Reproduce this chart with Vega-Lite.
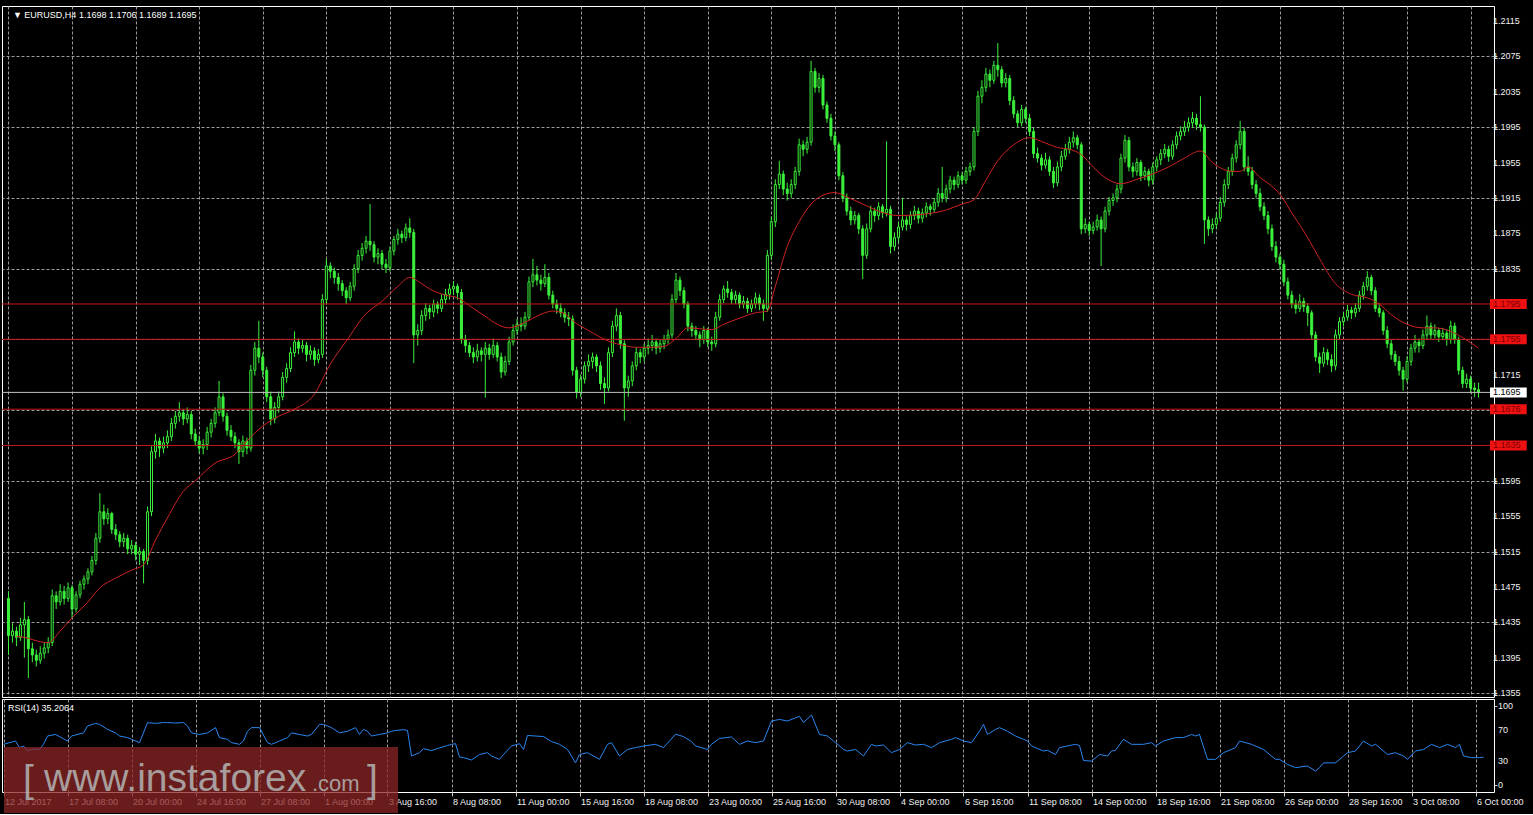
{
"$schema":"https://vega.github.io/schema/vega-lite/v6.json",
"background":"#000000",
"padding":{"left":1,"top":5,"right":0,"bottom":0},
"autosize":{"type":"pad"},
"spacing":2,
"bounds":"flush",
"config":{"view":{"stroke":"#ffffff","strokeWidth":1},"axis":{"labelFont":"Liberation Sans","labelFontSize":9,"labelColor":"#f0f0f0","labelOverlap":false,"title":null,"domain":false,"gridColor":"#9c9c9c","gridDash":[3,2],"gridWidth":1,"tickColor":"#d0d0d0"}},
"datasets":{
"bars":[
{"i":0,"o":1.1462,"h":1.1470,"l":1.1398,"c":1.1420},
{"i":1,"o":1.1420,"h":1.1434,"l":1.1412,"c":1.1425},
{"i":2,"o":1.1425,"h":1.1430,"l":1.1408,"c":1.1418},
{"i":3,"o":1.1418,"h":1.1440,"l":1.1414,"c":1.1432},
{"i":4,"o":1.1432,"h":1.1458,"l":1.1395,"c":1.1438},
{"i":5,"o":1.1438,"h":1.1442,"l":1.1372,"c":1.1405},
{"i":6,"o":1.1405,"h":1.1412,"l":1.1390,"c":1.1398},
{"i":7,"o":1.1398,"h":1.1404,"l":1.1385,"c":1.1392},
{"i":8,"o":1.1392,"h":1.1408,"l":1.1388,"c":1.1400},
{"i":9,"o":1.1400,"h":1.1412,"l":1.1394,"c":1.1406},
{"i":10,"o":1.1406,"h":1.1418,"l":1.1400,"c":1.1412},
{"i":11,"o":1.1412,"h":1.1472,"l":1.1408,"c":1.1465},
{"i":12,"o":1.1465,"h":1.1470,"l":1.1450,"c":1.1458},
{"i":13,"o":1.1458,"h":1.1478,"l":1.1454,"c":1.1470},
{"i":14,"o":1.1470,"h":1.1476,"l":1.1455,"c":1.1462},
{"i":15,"o":1.1462,"h":1.1480,"l":1.1458,"c":1.1474},
{"i":16,"o":1.1474,"h":1.1477,"l":1.1440,"c":1.1450},
{"i":17,"o":1.1450,"h":1.1470,"l":1.1446,"c":1.1466},
{"i":18,"o":1.1466,"h":1.1482,"l":1.1462,"c":1.1478},
{"i":19,"o":1.1478,"h":1.1488,"l":1.1472,"c":1.1484},
{"i":20,"o":1.1484,"h":1.1496,"l":1.1478,"c":1.1492},
{"i":21,"o":1.1492,"h":1.1510,"l":1.1488,"c":1.1505},
{"i":22,"o":1.1505,"h":1.1536,"l":1.1500,"c":1.1530},
{"i":23,"o":1.1530,"h":1.1581,"l":1.1525,"c":1.1560},
{"i":24,"o":1.1560,"h":1.1568,"l":1.1545,"c":1.1552},
{"i":25,"o":1.1552,"h":1.1564,"l":1.1546,"c":1.1558},
{"i":26,"o":1.1558,"h":1.1560,"l":1.1535,"c":1.1540},
{"i":27,"o":1.1540,"h":1.1546,"l":1.1528,"c":1.1534},
{"i":28,"o":1.1534,"h":1.1538,"l":1.1520,"c":1.1526},
{"i":29,"o":1.1526,"h":1.1536,"l":1.1520,"c":1.1530},
{"i":30,"o":1.1530,"h":1.1534,"l":1.1512,"c":1.1518},
{"i":31,"o":1.1518,"h":1.1528,"l":1.1512,"c":1.1522},
{"i":32,"o":1.1522,"h":1.1526,"l":1.1505,"c":1.1512},
{"i":33,"o":1.1512,"h":1.1520,"l":1.1500,"c":1.1515},
{"i":34,"o":1.1515,"h":1.1518,"l":1.1479,"c":1.1505},
{"i":35,"o":1.1505,"h":1.1566,"l":1.1500,"c":1.1560},
{"i":36,"o":1.1560,"h":1.1634,"l":1.1555,"c":1.1628},
{"i":37,"o":1.1628,"h":1.1648,"l":1.1620,"c":1.1640},
{"i":38,"o":1.1640,"h":1.1644,"l":1.1622,"c":1.1632},
{"i":39,"o":1.1632,"h":1.1645,"l":1.1626,"c":1.1638},
{"i":40,"o":1.1638,"h":1.1652,"l":1.1632,"c":1.1645},
{"i":41,"o":1.1645,"h":1.1666,"l":1.1640,"c":1.1660},
{"i":42,"o":1.1660,"h":1.1674,"l":1.1654,"c":1.1668},
{"i":43,"o":1.1668,"h":1.1684,"l":1.1662,"c":1.1672},
{"i":44,"o":1.1672,"h":1.1676,"l":1.1658,"c":1.1665},
{"i":45,"o":1.1665,"h":1.1678,"l":1.1660,"c":1.1670},
{"i":46,"o":1.1670,"h":1.1674,"l":1.1642,"c":1.1648},
{"i":47,"o":1.1648,"h":1.1654,"l":1.1634,"c":1.1640},
{"i":48,"o":1.1640,"h":1.1646,"l":1.1626,"c":1.1632},
{"i":49,"o":1.1632,"h":1.1642,"l":1.1625,"c":1.1636},
{"i":50,"o":1.1636,"h":1.1656,"l":1.1630,"c":1.1650},
{"i":51,"o":1.1650,"h":1.1665,"l":1.1644,"c":1.1660},
{"i":52,"o":1.1660,"h":1.1678,"l":1.1655,"c":1.1672},
{"i":53,"o":1.1672,"h":1.1708,"l":1.1668,"c":1.1690},
{"i":54,"o":1.1690,"h":1.1694,"l":1.1662,"c":1.1668},
{"i":55,"o":1.1668,"h":1.1672,"l":1.1646,"c":1.1652},
{"i":56,"o":1.1652,"h":1.1658,"l":1.1640,"c":1.1645},
{"i":57,"o":1.1645,"h":1.1650,"l":1.1632,"c":1.1638},
{"i":58,"o":1.1638,"h":1.1642,"l":1.1614,"c":1.1628},
{"i":59,"o":1.1628,"h":1.1646,"l":1.1622,"c":1.1640},
{"i":60,"o":1.1640,"h":1.1644,"l":1.1625,"c":1.1632},
{"i":61,"o":1.1632,"h":1.1726,"l":1.1628,"c":1.1720},
{"i":62,"o":1.1720,"h":1.1752,"l":1.1714,"c":1.1745},
{"i":63,"o":1.1745,"h":1.1776,"l":1.1728,"c":1.1735},
{"i":64,"o":1.1735,"h":1.1740,"l":1.1712,"c":1.1720},
{"i":65,"o":1.1720,"h":1.1724,"l":1.1684,"c":1.1690},
{"i":66,"o":1.1690,"h":1.1696,"l":1.1658,"c":1.1665},
{"i":67,"o":1.1665,"h":1.1684,"l":1.1660,"c":1.1678},
{"i":68,"o":1.1678,"h":1.1696,"l":1.1672,"c":1.1690},
{"i":69,"o":1.1690,"h":1.1718,"l":1.1686,"c":1.1712},
{"i":70,"o":1.1712,"h":1.1728,"l":1.1706,"c":1.1722},
{"i":71,"o":1.1722,"h":1.1746,"l":1.1718,"c":1.1740},
{"i":72,"o":1.1740,"h":1.1764,"l":1.1735,"c":1.1752},
{"i":73,"o":1.1752,"h":1.1756,"l":1.1738,"c":1.1745},
{"i":74,"o":1.1745,"h":1.1754,"l":1.1740,"c":1.1748},
{"i":75,"o":1.1748,"h":1.1752,"l":1.1730,"c":1.1738},
{"i":76,"o":1.1738,"h":1.1748,"l":1.1732,"c":1.1742},
{"i":77,"o":1.1742,"h":1.1746,"l":1.1725,"c":1.1732},
{"i":78,"o":1.1732,"h":1.1744,"l":1.1728,"c":1.1738},
{"i":79,"o":1.1738,"h":1.1806,"l":1.1734,"c":1.1800},
{"i":80,"o":1.1800,"h":1.1846,"l":1.1795,"c":1.1838},
{"i":81,"o":1.1838,"h":1.1842,"l":1.1824,"c":1.1832},
{"i":82,"o":1.1832,"h":1.1836,"l":1.1818,"c":1.1825},
{"i":83,"o":1.1825,"h":1.1830,"l":1.1810,"c":1.1818},
{"i":84,"o":1.1818,"h":1.1822,"l":1.1804,"c":1.1810},
{"i":85,"o":1.1810,"h":1.1814,"l":1.1795,"c":1.1802},
{"i":86,"o":1.1802,"h":1.1820,"l":1.1798,"c":1.1815},
{"i":87,"o":1.1815,"h":1.1840,"l":1.1810,"c":1.1835},
{"i":88,"o":1.1835,"h":1.1856,"l":1.1830,"c":1.1850},
{"i":89,"o":1.1850,"h":1.1864,"l":1.1844,"c":1.1858},
{"i":90,"o":1.1858,"h":1.1872,"l":1.1852,"c":1.1866},
{"i":91,"o":1.1866,"h":1.1908,"l":1.1855,"c":1.1862},
{"i":92,"o":1.1862,"h":1.1866,"l":1.1842,"c":1.1848},
{"i":93,"o":1.1848,"h":1.1858,"l":1.1840,"c":1.1852},
{"i":94,"o":1.1852,"h":1.1856,"l":1.1834,"c":1.1840},
{"i":95,"o":1.1840,"h":1.1846,"l":1.1830,"c":1.1836},
{"i":96,"o":1.1836,"h":1.1860,"l":1.1832,"c":1.1855},
{"i":97,"o":1.1855,"h":1.1872,"l":1.1850,"c":1.1868},
{"i":98,"o":1.1868,"h":1.1880,"l":1.1862,"c":1.1874},
{"i":99,"o":1.1874,"h":1.1878,"l":1.1864,"c":1.1870},
{"i":100,"o":1.1870,"h":1.1886,"l":1.1866,"c":1.1881},
{"i":101,"o":1.1881,"h":1.1892,"l":1.1870,"c":1.1876},
{"i":102,"o":1.1876,"h":1.1880,"l":1.1728,"c":1.1760},
{"i":103,"o":1.1760,"h":1.1772,"l":1.1748,"c":1.1765},
{"i":104,"o":1.1765,"h":1.1788,"l":1.1760,"c":1.1782},
{"i":105,"o":1.1782,"h":1.1796,"l":1.1776,"c":1.1790},
{"i":106,"o":1.1790,"h":1.1794,"l":1.1778,"c":1.1786},
{"i":107,"o":1.1786,"h":1.1800,"l":1.1780,"c":1.1795},
{"i":108,"o":1.1795,"h":1.1798,"l":1.1784,"c":1.1790},
{"i":109,"o":1.1790,"h":1.1806,"l":1.1786,"c":1.1800},
{"i":110,"o":1.1800,"h":1.1812,"l":1.1795,"c":1.1806},
{"i":111,"o":1.1806,"h":1.1818,"l":1.1800,"c":1.1812},
{"i":112,"o":1.1812,"h":1.1821,"l":1.1805,"c":1.1815},
{"i":113,"o":1.1815,"h":1.1818,"l":1.1800,"c":1.1808},
{"i":114,"o":1.1808,"h":1.1812,"l":1.1750,"c":1.1755},
{"i":115,"o":1.1755,"h":1.1760,"l":1.1740,"c":1.1748},
{"i":116,"o":1.1748,"h":1.1752,"l":1.1735,"c":1.1740},
{"i":117,"o":1.1740,"h":1.1746,"l":1.1728,"c":1.1735},
{"i":118,"o":1.1735,"h":1.1750,"l":1.1730,"c":1.1742},
{"i":119,"o":1.1742,"h":1.1746,"l":1.1730,"c":1.1738},
{"i":120,"o":1.1738,"h":1.1752,"l":1.1689,"c":1.1745},
{"i":121,"o":1.1745,"h":1.1750,"l":1.1732,"c":1.1738},
{"i":122,"o":1.1738,"h":1.1756,"l":1.1734,"c":1.1748},
{"i":123,"o":1.1748,"h":1.1752,"l":1.1730,"c":1.1735},
{"i":124,"o":1.1735,"h":1.1740,"l":1.1711,"c":1.1718},
{"i":125,"o":1.1718,"h":1.1736,"l":1.1714,"c":1.1730},
{"i":126,"o":1.1730,"h":1.1758,"l":1.1726,"c":1.1752},
{"i":127,"o":1.1752,"h":1.1772,"l":1.1748,"c":1.1765},
{"i":128,"o":1.1765,"h":1.1778,"l":1.1760,"c":1.1772},
{"i":129,"o":1.1772,"h":1.1780,"l":1.1764,"c":1.1770},
{"i":130,"o":1.1770,"h":1.1786,"l":1.1766,"c":1.1780},
{"i":131,"o":1.1780,"h":1.1826,"l":1.1776,"c":1.1820},
{"i":132,"o":1.1820,"h":1.1846,"l":1.1814,"c":1.1828},
{"i":133,"o":1.1828,"h":1.1838,"l":1.1816,"c":1.1822},
{"i":134,"o":1.1822,"h":1.1828,"l":1.1810,"c":1.1818},
{"i":135,"o":1.1818,"h":1.1840,"l":1.1814,"c":1.1825},
{"i":136,"o":1.1825,"h":1.1830,"l":1.1800,"c":1.1805},
{"i":137,"o":1.1805,"h":1.1810,"l":1.1790,"c":1.1795},
{"i":138,"o":1.1795,"h":1.1800,"l":1.1784,"c":1.1790},
{"i":139,"o":1.1790,"h":1.1796,"l":1.1780,"c":1.1785},
{"i":140,"o":1.1785,"h":1.1790,"l":1.1774,"c":1.1780},
{"i":141,"o":1.1780,"h":1.1786,"l":1.1770,"c":1.1778},
{"i":142,"o":1.1778,"h":1.1782,"l":1.1714,"c":1.1720},
{"i":143,"o":1.1720,"h":1.1724,"l":1.1688,"c":1.1695},
{"i":144,"o":1.1695,"h":1.1715,"l":1.1690,"c":1.1710},
{"i":145,"o":1.1710,"h":1.1730,"l":1.1705,"c":1.1725},
{"i":146,"o":1.1725,"h":1.1738,"l":1.1718,"c":1.1730},
{"i":147,"o":1.1730,"h":1.1740,"l":1.1722,"c":1.1735},
{"i":148,"o":1.1735,"h":1.1738,"l":1.1718,"c":1.1725},
{"i":149,"o":1.1725,"h":1.1730,"l":1.1698,"c":1.1705},
{"i":150,"o":1.1705,"h":1.1712,"l":1.1682,"c":1.1700},
{"i":151,"o":1.1700,"h":1.1746,"l":1.1696,"c":1.1740},
{"i":152,"o":1.1740,"h":1.1776,"l":1.1735,"c":1.1770},
{"i":153,"o":1.1770,"h":1.1790,"l":1.1764,"c":1.1782},
{"i":154,"o":1.1782,"h":1.1786,"l":1.1744,"c":1.1750},
{"i":155,"o":1.1750,"h":1.1754,"l":1.1663,"c":1.1700},
{"i":156,"o":1.1700,"h":1.1714,"l":1.1690,"c":1.1708},
{"i":157,"o":1.1708,"h":1.1730,"l":1.1702,"c":1.1725},
{"i":158,"o":1.1725,"h":1.1746,"l":1.1720,"c":1.1740},
{"i":159,"o":1.1740,"h":1.1744,"l":1.1728,"c":1.1735},
{"i":160,"o":1.1735,"h":1.1750,"l":1.1730,"c":1.1745},
{"i":161,"o":1.1745,"h":1.1756,"l":1.1738,"c":1.1748},
{"i":162,"o":1.1748,"h":1.1760,"l":1.1742,"c":1.1752},
{"i":163,"o":1.1752,"h":1.1756,"l":1.1738,"c":1.1745},
{"i":164,"o":1.1745,"h":1.1755,"l":1.1740,"c":1.1750},
{"i":165,"o":1.1750,"h":1.1760,"l":1.1744,"c":1.1755},
{"i":166,"o":1.1755,"h":1.1766,"l":1.1750,"c":1.1760},
{"i":167,"o":1.1760,"h":1.1806,"l":1.1756,"c":1.1800},
{"i":168,"o":1.1800,"h":1.1830,"l":1.1796,"c":1.1822},
{"i":169,"o":1.1822,"h":1.1826,"l":1.1804,"c":1.1810},
{"i":170,"o":1.1810,"h":1.1814,"l":1.1790,"c":1.1795},
{"i":171,"o":1.1795,"h":1.1798,"l":1.1764,"c":1.1770},
{"i":172,"o":1.1770,"h":1.1774,"l":1.1758,"c":1.1765},
{"i":173,"o":1.1765,"h":1.1770,"l":1.1754,"c":1.1760},
{"i":174,"o":1.1760,"h":1.1764,"l":1.1746,"c":1.1755},
{"i":175,"o":1.1755,"h":1.1770,"l":1.1750,"c":1.1765},
{"i":176,"o":1.1765,"h":1.1768,"l":1.1746,"c":1.1752},
{"i":177,"o":1.1752,"h":1.1758,"l":1.1742,"c":1.1750},
{"i":178,"o":1.1750,"h":1.1786,"l":1.1746,"c":1.1780},
{"i":179,"o":1.1780,"h":1.1806,"l":1.1776,"c":1.1800},
{"i":180,"o":1.1800,"h":1.1816,"l":1.1796,"c":1.1812},
{"i":181,"o":1.1812,"h":1.1821,"l":1.1802,"c":1.1808},
{"i":182,"o":1.1808,"h":1.1812,"l":1.1795,"c":1.1800},
{"i":183,"o":1.1800,"h":1.1810,"l":1.1795,"c":1.1805},
{"i":184,"o":1.1805,"h":1.1808,"l":1.1790,"c":1.1795},
{"i":185,"o":1.1795,"h":1.1804,"l":1.1790,"c":1.1798},
{"i":186,"o":1.1798,"h":1.1802,"l":1.1785,"c":1.1790},
{"i":187,"o":1.1790,"h":1.1800,"l":1.1786,"c":1.1795},
{"i":188,"o":1.1795,"h":1.1808,"l":1.1790,"c":1.1802},
{"i":189,"o":1.1802,"h":1.1806,"l":1.1788,"c":1.1795},
{"i":190,"o":1.1795,"h":1.1800,"l":1.1776,"c":1.1790},
{"i":191,"o":1.1790,"h":1.1856,"l":1.1786,"c":1.1850},
{"i":192,"o":1.1850,"h":1.1894,"l":1.1845,"c":1.1888},
{"i":193,"o":1.1888,"h":1.1936,"l":1.1882,"c":1.1930},
{"i":194,"o":1.1930,"h":1.1957,"l":1.1925,"c":1.1942},
{"i":195,"o":1.1942,"h":1.1946,"l":1.1918,"c":1.1925},
{"i":196,"o":1.1925,"h":1.1932,"l":1.1912,"c":1.1920},
{"i":197,"o":1.1920,"h":1.1936,"l":1.1915,"c":1.1930},
{"i":198,"o":1.1930,"h":1.1950,"l":1.1925,"c":1.1945},
{"i":199,"o":1.1945,"h":1.1982,"l":1.1940,"c":1.1975},
{"i":200,"o":1.1975,"h":1.1980,"l":1.1962,"c":1.1970},
{"i":201,"o":1.1970,"h":1.1984,"l":1.1965,"c":1.1978},
{"i":202,"o":1.1978,"h":1.2070,"l":1.1974,"c":1.2058},
{"i":203,"o":1.2058,"h":1.2062,"l":1.2034,"c":1.2040},
{"i":204,"o":1.2040,"h":1.2056,"l":1.2034,"c":1.2050},
{"i":205,"o":1.2050,"h":1.2054,"l":1.2015,"c":1.2020},
{"i":206,"o":1.2020,"h":1.2024,"l":1.2000,"c":1.2005},
{"i":207,"o":1.2005,"h":1.2010,"l":1.1980,"c":1.1985},
{"i":208,"o":1.1985,"h":1.1990,"l":1.1968,"c":1.1975},
{"i":209,"o":1.1975,"h":1.1978,"l":1.1935,"c":1.1940},
{"i":210,"o":1.1940,"h":1.1944,"l":1.1910,"c":1.1915},
{"i":211,"o":1.1915,"h":1.1920,"l":1.1895,"c":1.1900},
{"i":212,"o":1.1900,"h":1.1905,"l":1.1884,"c":1.1890},
{"i":213,"o":1.1890,"h":1.1900,"l":1.1885,"c":1.1895},
{"i":214,"o":1.1895,"h":1.1898,"l":1.1874,"c":1.1880},
{"i":215,"o":1.1880,"h":1.1884,"l":1.1823,"c":1.1850},
{"i":216,"o":1.1850,"h":1.1886,"l":1.1846,"c":1.1880},
{"i":217,"o":1.1880,"h":1.1906,"l":1.1876,"c":1.1900},
{"i":218,"o":1.1900,"h":1.1904,"l":1.1888,"c":1.1895},
{"i":219,"o":1.1895,"h":1.1910,"l":1.1890,"c":1.1905},
{"i":220,"o":1.1905,"h":1.1908,"l":1.1892,"c":1.1898},
{"i":221,"o":1.1898,"h":1.1979,"l":1.1894,"c":1.1902},
{"i":222,"o":1.1902,"h":1.1906,"l":1.1852,"c":1.1860},
{"i":223,"o":1.1860,"h":1.1876,"l":1.1855,"c":1.1870},
{"i":224,"o":1.1870,"h":1.1888,"l":1.1865,"c":1.1882},
{"i":225,"o":1.1882,"h":1.1915,"l":1.1878,"c":1.1890},
{"i":226,"o":1.1890,"h":1.1894,"l":1.1878,"c":1.1885},
{"i":227,"o":1.1885,"h":1.1900,"l":1.1880,"c":1.1895},
{"i":228,"o":1.1895,"h":1.1906,"l":1.1890,"c":1.1900},
{"i":229,"o":1.1900,"h":1.1904,"l":1.1886,"c":1.1892},
{"i":230,"o":1.1892,"h":1.1903,"l":1.1887,"c":1.1898},
{"i":231,"o":1.1898,"h":1.1910,"l":1.1893,"c":1.1905},
{"i":232,"o":1.1905,"h":1.1908,"l":1.1895,"c":1.1902},
{"i":233,"o":1.1902,"h":1.1915,"l":1.1898,"c":1.1910},
{"i":234,"o":1.1910,"h":1.1926,"l":1.1905,"c":1.1920},
{"i":235,"o":1.1920,"h":1.1950,"l":1.1910,"c":1.1915},
{"i":236,"o":1.1915,"h":1.1930,"l":1.1910,"c":1.1925},
{"i":237,"o":1.1925,"h":1.1940,"l":1.1920,"c":1.1935},
{"i":238,"o":1.1935,"h":1.1939,"l":1.1924,"c":1.1930},
{"i":239,"o":1.1930,"h":1.1945,"l":1.1926,"c":1.1940},
{"i":240,"o":1.1940,"h":1.1944,"l":1.1930,"c":1.1935},
{"i":241,"o":1.1935,"h":1.1950,"l":1.1931,"c":1.1945},
{"i":242,"o":1.1945,"h":1.1955,"l":1.1940,"c":1.1950},
{"i":243,"o":1.1950,"h":1.1995,"l":1.1946,"c":1.1990},
{"i":244,"o":1.1990,"h":1.2036,"l":1.1985,"c":1.2030},
{"i":245,"o":1.2030,"h":1.2048,"l":1.2022,"c":1.2040},
{"i":246,"o":1.2040,"h":1.2062,"l":1.2035,"c":1.2055},
{"i":247,"o":1.2055,"h":1.2060,"l":1.2040,"c":1.2048},
{"i":248,"o":1.2048,"h":1.2070,"l":1.2044,"c":1.2065},
{"i":249,"o":1.2065,"h":1.2090,"l":1.2052,"c":1.2060},
{"i":250,"o":1.2060,"h":1.2064,"l":1.2040,"c":1.2045},
{"i":251,"o":1.2045,"h":1.2056,"l":1.2040,"c":1.2050},
{"i":252,"o":1.2050,"h":1.2054,"l":1.2020,"c":1.2025},
{"i":253,"o":1.2025,"h":1.2030,"l":1.2005,"c":1.2010},
{"i":254,"o":1.2010,"h":1.2014,"l":1.1995,"c":1.2000},
{"i":255,"o":1.2000,"h":1.2020,"l":1.1996,"c":1.2015},
{"i":256,"o":1.2015,"h":1.2018,"l":1.2000,"c":1.2005},
{"i":257,"o":1.2005,"h":1.2010,"l":1.1985,"c":1.1990},
{"i":258,"o":1.1990,"h":1.1994,"l":1.1960,"c":1.1965},
{"i":259,"o":1.1965,"h":1.1972,"l":1.1955,"c":1.1960},
{"i":260,"o":1.1960,"h":1.1964,"l":1.1946,"c":1.1952},
{"i":261,"o":1.1952,"h":1.1966,"l":1.1948,"c":1.1958},
{"i":262,"o":1.1958,"h":1.1962,"l":1.1940,"c":1.1945},
{"i":263,"o":1.1945,"h":1.1950,"l":1.1926,"c":1.1932},
{"i":264,"o":1.1932,"h":1.1956,"l":1.1928,"c":1.1950},
{"i":265,"o":1.1950,"h":1.1968,"l":1.1945,"c":1.1962},
{"i":266,"o":1.1962,"h":1.1976,"l":1.1958,"c":1.1970},
{"i":267,"o":1.1970,"h":1.1984,"l":1.1965,"c":1.1978},
{"i":268,"o":1.1978,"h":1.1990,"l":1.1972,"c":1.1983},
{"i":269,"o":1.1983,"h":1.1986,"l":1.1970,"c":1.1975},
{"i":270,"o":1.1975,"h":1.1978,"l":1.1874,"c":1.1880},
{"i":271,"o":1.1880,"h":1.1892,"l":1.1875,"c":1.1885},
{"i":272,"o":1.1885,"h":1.1888,"l":1.1872,"c":1.1878},
{"i":273,"o":1.1878,"h":1.1888,"l":1.1874,"c":1.1882},
{"i":274,"o":1.1882,"h":1.1896,"l":1.1878,"c":1.1890},
{"i":275,"o":1.1890,"h":1.1894,"l":1.1838,"c":1.1880},
{"i":276,"o":1.1880,"h":1.1905,"l":1.1876,"c":1.1900},
{"i":277,"o":1.1900,"h":1.1916,"l":1.1895,"c":1.1912},
{"i":278,"o":1.1912,"h":1.1920,"l":1.1906,"c":1.1915},
{"i":279,"o":1.1915,"h":1.1930,"l":1.1910,"c":1.1925},
{"i":280,"o":1.1925,"h":1.1965,"l":1.1920,"c":1.1960},
{"i":281,"o":1.1960,"h":1.1986,"l":1.1955,"c":1.1980},
{"i":282,"o":1.1980,"h":1.1984,"l":1.1945,"c":1.1950},
{"i":283,"o":1.1950,"h":1.1955,"l":1.1938,"c":1.1945},
{"i":284,"o":1.1945,"h":1.1960,"l":1.1940,"c":1.1955},
{"i":285,"o":1.1955,"h":1.1958,"l":1.1934,"c":1.1940},
{"i":286,"o":1.1940,"h":1.1950,"l":1.1935,"c":1.1945},
{"i":287,"o":1.1945,"h":1.1948,"l":1.1928,"c":1.1935},
{"i":288,"o":1.1935,"h":1.1955,"l":1.1930,"c":1.1950},
{"i":289,"o":1.1950,"h":1.1962,"l":1.1945,"c":1.1958},
{"i":290,"o":1.1958,"h":1.1970,"l":1.1952,"c":1.1965},
{"i":291,"o":1.1965,"h":1.1976,"l":1.1960,"c":1.1970},
{"i":292,"o":1.1970,"h":1.1974,"l":1.1956,"c":1.1962},
{"i":293,"o":1.1962,"h":1.1980,"l":1.1958,"c":1.1975},
{"i":294,"o":1.1975,"h":1.1990,"l":1.1970,"c":1.1985},
{"i":295,"o":1.1985,"h":1.1996,"l":1.1980,"c":1.1990},
{"i":296,"o":1.1990,"h":1.2002,"l":1.1985,"c":1.1995},
{"i":297,"o":1.1995,"h":1.2006,"l":1.1990,"c":1.2000},
{"i":298,"o":1.2000,"h":1.2012,"l":1.1994,"c":1.2005},
{"i":299,"o":1.2005,"h":1.2010,"l":1.1992,"c":1.1998},
{"i":300,"o":1.1998,"h":1.2030,"l":1.1990,"c":1.1995},
{"i":301,"o":1.1995,"h":1.1998,"l":1.1863,"c":1.1890},
{"i":302,"o":1.1890,"h":1.1894,"l":1.1872,"c":1.1880},
{"i":303,"o":1.1880,"h":1.1892,"l":1.1875,"c":1.1885},
{"i":304,"o":1.1885,"h":1.1898,"l":1.1880,"c":1.1892},
{"i":305,"o":1.1892,"h":1.1916,"l":1.1888,"c":1.1910},
{"i":306,"o":1.1910,"h":1.1936,"l":1.1905,"c":1.1930},
{"i":307,"o":1.1930,"h":1.1950,"l":1.1925,"c":1.1945},
{"i":308,"o":1.1945,"h":1.1965,"l":1.1940,"c":1.1960},
{"i":309,"o":1.1960,"h":1.1980,"l":1.1955,"c":1.1975},
{"i":310,"o":1.1975,"h":1.2002,"l":1.1970,"c":1.1990},
{"i":311,"o":1.1990,"h":1.1994,"l":1.1945,"c":1.1950},
{"i":312,"o":1.1950,"h":1.1962,"l":1.1940,"c":1.1945},
{"i":313,"o":1.1945,"h":1.1950,"l":1.1925,"c":1.1930},
{"i":314,"o":1.1930,"h":1.1935,"l":1.1915,"c":1.1920},
{"i":315,"o":1.1920,"h":1.1926,"l":1.1900,"c":1.1905},
{"i":316,"o":1.1905,"h":1.1910,"l":1.1890,"c":1.1895},
{"i":317,"o":1.1895,"h":1.1900,"l":1.1874,"c":1.1880},
{"i":318,"o":1.1880,"h":1.1885,"l":1.1855,"c":1.1860},
{"i":319,"o":1.1860,"h":1.1866,"l":1.1842,"c":1.1848},
{"i":320,"o":1.1848,"h":1.1852,"l":1.1834,"c":1.1840},
{"i":321,"o":1.1840,"h":1.1845,"l":1.1815,"c":1.1820},
{"i":322,"o":1.1820,"h":1.1825,"l":1.1800,"c":1.1805},
{"i":323,"o":1.1805,"h":1.1810,"l":1.1790,"c":1.1795},
{"i":324,"o":1.1795,"h":1.1800,"l":1.1784,"c":1.1790},
{"i":325,"o":1.1790,"h":1.1806,"l":1.1786,"c":1.1798},
{"i":326,"o":1.1798,"h":1.1802,"l":1.1786,"c":1.1792},
{"i":327,"o":1.1792,"h":1.1796,"l":1.1770,"c":1.1785},
{"i":328,"o":1.1785,"h":1.1788,"l":1.1755,"c":1.1760},
{"i":329,"o":1.1760,"h":1.1764,"l":1.1730,"c":1.1735},
{"i":330,"o":1.1735,"h":1.1740,"l":1.1717,"c":1.1728},
{"i":331,"o":1.1728,"h":1.1746,"l":1.1724,"c":1.1740},
{"i":332,"o":1.1740,"h":1.1744,"l":1.1726,"c":1.1732},
{"i":333,"o":1.1732,"h":1.1738,"l":1.1718,"c":1.1725},
{"i":334,"o":1.1725,"h":1.1766,"l":1.1720,"c":1.1760},
{"i":335,"o":1.1760,"h":1.1780,"l":1.1755,"c":1.1775},
{"i":336,"o":1.1775,"h":1.1786,"l":1.1770,"c":1.1780},
{"i":337,"o":1.1780,"h":1.1794,"l":1.1776,"c":1.1788},
{"i":338,"o":1.1788,"h":1.1792,"l":1.1778,"c":1.1785},
{"i":339,"o":1.1785,"h":1.1796,"l":1.1780,"c":1.1790},
{"i":340,"o":1.1790,"h":1.1810,"l":1.1786,"c":1.1805},
{"i":341,"o":1.1805,"h":1.1820,"l":1.1800,"c":1.1815},
{"i":342,"o":1.1815,"h":1.1832,"l":1.1810,"c":1.1825},
{"i":343,"o":1.1825,"h":1.1828,"l":1.1805,"c":1.1810},
{"i":344,"o":1.1810,"h":1.1814,"l":1.1786,"c":1.1790},
{"i":345,"o":1.1790,"h":1.1796,"l":1.1780,"c":1.1785},
{"i":346,"o":1.1785,"h":1.1788,"l":1.1760,"c":1.1765},
{"i":347,"o":1.1765,"h":1.1770,"l":1.1745,"c":1.1750},
{"i":348,"o":1.1750,"h":1.1755,"l":1.1732,"c":1.1738},
{"i":349,"o":1.1738,"h":1.1742,"l":1.1725,"c":1.1730},
{"i":350,"o":1.1730,"h":1.1736,"l":1.1714,"c":1.1720},
{"i":351,"o":1.1720,"h":1.1724,"l":1.1697,"c":1.1710},
{"i":352,"o":1.1710,"h":1.1736,"l":1.1706,"c":1.1730},
{"i":353,"o":1.1730,"h":1.1750,"l":1.1725,"c":1.1745},
{"i":354,"o":1.1745,"h":1.1760,"l":1.1740,"c":1.1752},
{"i":355,"o":1.1752,"h":1.1756,"l":1.1740,"c":1.1748},
{"i":356,"o":1.1748,"h":1.1766,"l":1.1744,"c":1.1760},
{"i":357,"o":1.1760,"h":1.1782,"l":1.1755,"c":1.1770},
{"i":358,"o":1.1770,"h":1.1774,"l":1.1755,"c":1.1760},
{"i":359,"o":1.1760,"h":1.1772,"l":1.1756,"c":1.1765},
{"i":360,"o":1.1765,"h":1.1768,"l":1.1752,"c":1.1758},
{"i":361,"o":1.1758,"h":1.1768,"l":1.1754,"c":1.1762},
{"i":362,"o":1.1762,"h":1.1766,"l":1.1748,"c":1.1755},
{"i":363,"o":1.1755,"h":1.1776,"l":1.1750,"c":1.1770},
{"i":364,"o":1.1770,"h":1.1774,"l":1.1750,"c":1.1755},
{"i":365,"o":1.1755,"h":1.1758,"l":1.1715,"c":1.1720},
{"i":366,"o":1.1720,"h":1.1724,"l":1.1700,"c":1.1705},
{"i":367,"o":1.1705,"h":1.1716,"l":1.1700,"c":1.1710},
{"i":368,"o":1.1710,"h":1.1714,"l":1.1694,"c":1.1700},
{"i":369,"o":1.1700,"h":1.1706,"l":1.1690,"c":1.1698},
{"i":370,"o":1.1698,"h":1.1706,"l":1.1689,"c":1.1695}
],
"ma":[
{"i":2,"v":1.1419},{"i":4,"v":1.1418},{"i":8,"v":1.1413},{"i":10,"v":1.1412},{"i":13,"v":1.1425},{"i":16,"v":1.1440},{"i":20,"v":1.1458},{"i":23,"v":1.1474},{"i":27,"v":1.1485},{"i":31,"v":1.1494},{"i":34,"v":1.1500},{"i":37,"v":1.1528},{"i":40,"v":1.1553},{"i":44,"v":1.1583},{"i":47,"v":1.1595},{"i":52,"v":1.1615},{"i":57,"v":1.1625},{"i":60,"v":1.1640},{"i":64,"v":1.1657},{"i":68,"v":1.1668},{"i":72,"v":1.1676},{"i":77,"v":1.1693},{"i":81,"v":1.1727},{"i":85,"v":1.1753},{"i":90,"v":1.1784},{"i":94,"v":1.1798},{"i":98,"v":1.1815},{"i":101,"v":1.1825},{"i":104,"v":1.1818},{"i":106,"v":1.1812},{"i":110,"v":1.1805},{"i":113,"v":1.1802},{"i":117,"v":1.1790},{"i":120,"v":1.1781},{"i":123,"v":1.1772},{"i":126,"v":1.1768},{"i":129,"v":1.1772},{"i":132,"v":1.1779},{"i":135,"v":1.1785},{"i":137,"v":1.1787},{"i":140,"v":1.1784},{"i":142,"v":1.1776},{"i":146,"v":1.1765},{"i":151,"v":1.1753},{"i":155,"v":1.1748},{"i":158,"v":1.1746},{"i":162,"v":1.1746},{"i":165,"v":1.1747},{"i":168,"v":1.1756},{"i":171,"v":1.1768},{"i":174,"v":1.1767},{"i":177,"v":1.1766},{"i":180,"v":1.1772},{"i":184,"v":1.1779},{"i":188,"v":1.1785},{"i":191,"v":1.1787},{"i":193,"v":1.1815},{"i":196,"v":1.1860},{"i":199,"v":1.1888},{"i":202,"v":1.1908},{"i":205,"v":1.1918},{"i":208,"v":1.1921},{"i":211,"v":1.1916},{"i":215,"v":1.1908},{"i":219,"v":1.1900},{"i":224,"v":1.1895},{"i":229,"v":1.1896},{"i":235,"v":1.1900},{"i":240,"v":1.1908},{"i":243,"v":1.1913},{"i":246,"v":1.1935},{"i":249,"v":1.1957},{"i":253,"v":1.1975},{"i":257,"v":1.1983},{"i":261,"v":1.1977},{"i":264,"v":1.1972},{"i":267,"v":1.1970},{"i":270,"v":1.1964},{"i":273,"v":1.1950},{"i":276,"v":1.1938},{"i":280,"v":1.1931},{"i":284,"v":1.1936},{"i":288,"v":1.1942},{"i":292,"v":1.1950},{"i":296,"v":1.1960},{"i":300,"v":1.1968},{"i":303,"v":1.1955},{"i":305,"v":1.1949},{"i":308,"v":1.1945},{"i":310,"v":1.1945},{"i":312,"v":1.1950},{"i":315,"v":1.1938},{"i":318,"v":1.1928},{"i":320,"v":1.1919},{"i":323,"v":1.1898},{"i":327,"v":1.1870},{"i":330,"v":1.1846},{"i":334,"v":1.1818},{"i":338,"v":1.1806},{"i":342,"v":1.1802},{"i":345,"v":1.1795},{"i":348,"v":1.1783},{"i":352,"v":1.1772},{"i":356,"v":1.1768},{"i":359,"v":1.1768},{"i":363,"v":1.1764},{"i":366,"v":1.1757},{"i":370,"v":1.1745}
],
"rsi":[
{"i":0,"v":51.5},{"i":3,"v":55.7},{"i":4,"v":47.3},{"i":5,"v":49.4},{"i":6,"v":43},{"i":7,"v":45},{"i":9,"v":45},{"i":10,"v":51.5},{"i":11,"v":62},{"i":13,"v":64},{"i":16,"v":55.7},{"i":17,"v":62},{"i":20,"v":66},{"i":21,"v":74.7},{"i":23,"v":78},{"i":24,"v":76.8},{"i":26,"v":70.4},{"i":28,"v":66},{"i":29,"v":62},{"i":31,"v":60},{"i":32,"v":57.8},{"i":34,"v":53.6},{"i":36,"v":78.9},{"i":38,"v":78},{"i":40,"v":79},{"i":41,"v":79},{"i":43,"v":78.5},{"i":45,"v":79},{"i":46,"v":74.7},{"i":47,"v":66},{"i":49,"v":64},{"i":51,"v":66},{"i":53,"v":72.6},{"i":54,"v":60},{"i":56,"v":57.8},{"i":57,"v":53.6},{"i":59,"v":51.5},{"i":60,"v":55.7},{"i":61,"v":68},{"i":62,"v":72.6},{"i":64,"v":72.6},{"i":66,"v":53.6},{"i":67,"v":51.5},{"i":69,"v":55.7},{"i":71,"v":60},{"i":72,"v":66},{"i":74,"v":64},{"i":76,"v":62},{"i":77,"v":64},{"i":79,"v":76.8},{"i":80,"v":76.8},{"i":82,"v":72.6},{"i":84,"v":66},{"i":86,"v":68},{"i":87,"v":70.4},{"i":88,"v":72.6},{"i":89,"v":64},{"i":90,"v":70.4},{"i":91,"v":68},{"i":92,"v":62},{"i":94,"v":64},{"i":96,"v":66},{"i":97,"v":68},{"i":98,"v":69},{"i":100,"v":70},{"i":101,"v":69},{"i":102,"v":36.7},{"i":104,"v":40.9},{"i":105,"v":46},{"i":107,"v":43.5},{"i":109,"v":47},{"i":111,"v":50},{"i":112,"v":51.5},{"i":113,"v":52.3},{"i":114,"v":35.5},{"i":115,"v":34.6},{"i":117,"v":31.7},{"i":119,"v":38.6},{"i":121,"v":40.9},{"i":122,"v":36.7},{"i":124,"v":32.5},{"i":125,"v":38.6},{"i":127,"v":49.4},{"i":129,"v":52.3},{"i":130,"v":45},{"i":131,"v":62.7},{"i":133,"v":62},{"i":135,"v":61.3},{"i":137,"v":55},{"i":139,"v":51.5},{"i":141,"v":45},{"i":143,"v":28},{"i":144,"v":38.6},{"i":146,"v":40.9},{"i":149,"v":32.5},{"i":151,"v":51.5},{"i":152,"v":53.6},{"i":154,"v":36.7},{"i":156,"v":45},{"i":158,"v":47.3},{"i":160,"v":49.4},{"i":163,"v":51.5},{"i":165,"v":47.3},{"i":168,"v":64.3},{"i":170,"v":61.3},{"i":172,"v":55},{"i":173,"v":49.4},{"i":176,"v":45},{"i":177,"v":51.5},{"i":179,"v":59},{"i":182,"v":60.8},{"i":184,"v":51.5},{"i":186,"v":55.7},{"i":188,"v":53.6},{"i":190,"v":55.7},{"i":192,"v":81},{"i":194,"v":83},{"i":196,"v":81},{"i":198,"v":85},{"i":199,"v":87},{"i":200,"v":79},{"i":202,"v":88.6},{"i":204,"v":64},{"i":206,"v":62},{"i":208,"v":53.6},{"i":210,"v":45},{"i":211,"v":43},{"i":213,"v":45},{"i":215,"v":36.7},{"i":217,"v":51.5},{"i":218,"v":49.4},{"i":220,"v":50.6},{"i":222,"v":40.9},{"i":224,"v":45},{"i":226,"v":53.6},{"i":228,"v":50.6},{"i":230,"v":51.5},{"i":232,"v":47.3},{"i":234,"v":53.6},{"i":237,"v":57.8},{"i":238,"v":60},{"i":240,"v":55.7},{"i":242,"v":53.6},{"i":244,"v":68},{"i":245,"v":76.8},{"i":246,"v":64},{"i":248,"v":70.4},{"i":249,"v":72.6},{"i":251,"v":68},{"i":253,"v":62},{"i":255,"v":57.8},{"i":256,"v":55.7},{"i":257,"v":49.4},{"i":260,"v":43},{"i":261,"v":43.9},{"i":263,"v":38.6},{"i":264,"v":47.3},{"i":266,"v":49.4},{"i":268,"v":51.5},{"i":269,"v":50},{"i":270,"v":31},{"i":272,"v":30.2},{"i":274,"v":38.6},{"i":276,"v":36.7},{"i":277,"v":43},{"i":278,"v":43.9},{"i":280,"v":57.8},{"i":282,"v":51.5},{"i":285,"v":51.5},{"i":287,"v":53.6},{"i":288,"v":49.4},{"i":290,"v":55.7},{"i":293,"v":60},{"i":295,"v":60},{"i":297,"v":64},{"i":298,"v":62},{"i":299,"v":64},{"i":301,"v":32.5},{"i":303,"v":32.5},{"i":305,"v":40.9},{"i":308,"v":47.3},{"i":309,"v":55.7},{"i":312,"v":51.5},{"i":315,"v":45},{"i":318,"v":32.5},{"i":319,"v":32.5},{"i":321,"v":26},{"i":323,"v":22},{"i":326,"v":24},{"i":328,"v":17.7},{"i":329,"v":22},{"i":330,"v":28},{"i":333,"v":28},{"i":335,"v":36.7},{"i":336,"v":40.9},{"i":338,"v":43},{"i":340,"v":55.7},{"i":342,"v":49.4},{"i":343,"v":51.5},{"i":346,"v":38.6},{"i":348,"v":40.9},{"i":350,"v":36.7},{"i":351,"v":32.5},{"i":353,"v":43},{"i":355,"v":45},{"i":357,"v":51.5},{"i":359,"v":47.3},{"i":361,"v":51.5},{"i":363,"v":47.3},{"i":364,"v":51.5},{"i":365,"v":36.7},{"i":367,"v":34.6},{"i":369,"v":34.6},{"i":370,"v":35.2}
],
"levels":[
{"p":1.1795,"kind":"level"},{"p":1.1755,"kind":"level"},{"p":1.1676,"kind":"level"},{"p":1.1635,"kind":"level"},{"p":1.1695,"kind":"bid"}
],
"pticks":[
{"p":1.1355},{"p":1.1395},{"p":1.1435},{"p":1.1475},{"p":1.1515},{"p":1.1555},{"p":1.1595},{"p":1.1715},{"p":1.1835},{"p":1.1875},{"p":1.1915},{"p":1.1955},{"p":1.1995},{"p":1.2035},{"p":1.2075},{"p":1.2115}
],
"rticks":[
{"v":0},{"v":30},{"v":70},{"v":100}
]
},
"vconcat":[
{
"width":1492,"height":691,
"layer":[
{"data":{"name":"bars"},"mark":{"type":"rule","color":"#3cf03c","strokeWidth":1,"clip":true},
 "encoding":{
  "x":{"field":"i","type":"quantitative","scale":{"domain":[-0.375,372.625],"nice":false,"zero":false},
   "axis":{"values":[0,8,16,24,32,40,48,56,64,72,80,88,96,104,112,120,128,136,144,152,160,168,176,184,192,200,208,216,224,232,240,248,256,264,272,280,288,296,304,312,320,328,336,344,352,360,368],"labels":false,"ticks":false,"grid":true}},
  "y":{"field":"l","type":"quantitative","scale":{"domain":[1.13505,1.2132],"nice":false,"zero":false},
   "axis":{"orient":"right","values":[1.1355,1.1395,1.1435,1.1475,1.1515,1.1555,1.1595,1.1635,1.1675,1.1715,1.1755,1.1795,1.1835,1.1875,1.1915,1.1955,1.1995,1.2035,1.2075,1.2115],"labels":false,"grid":true,"ticks":true,"tickSize":3}},
  "y2":{"field":"h"}}},
{"data":{"name":"bars"},"mark":{"type":"bar","size":2,"stroke":"#3cf03c","strokeWidth":1,"clip":true},
 "encoding":{
  "x":{"field":"i","type":"quantitative"},
  "y":{"field":"o","type":"quantitative"},
  "y2":{"field":"c"},
  "fill":{"condition":{"test":"datum.c >= datum.o","value":"#000000"},"value":"#3cf03c"}}},
{"data":{"name":"ma"},"mark":{"type":"line","color":"#d02222","strokeWidth":1,"interpolate":"monotone","clip":true},
 "encoding":{"x":{"field":"i","type":"quantitative"},"y":{"field":"v","type":"quantitative"}}},
{"data":{"name":"levels"},"transform":[{"filter":"datum.kind == 'level'"}],"mark":{"type":"rule","color":"#c81818","strokeWidth":1},
 "encoding":{"y":{"field":"p","type":"quantitative"}}},
{"data":{"name":"levels"},"transform":[{"filter":"datum.kind == 'bid'"}],"mark":{"type":"rule","color":"#c0c0c0","strokeWidth":1},
 "encoding":{"y":{"field":"p","type":"quantitative"}}},
{"data":{"name":"pticks"},"mark":{"type":"text","align":"left","baseline":"middle","font":"Liberation Sans","fontSize":9,"color":"#f0f0f0","clip":false},
 "encoding":{"x":{"datum":373.625},"y":{"field":"p","type":"quantitative"},"text":{"field":"p","type":"quantitative","format":".4f"}}},
{"data":{"name":"levels"},"transform":[{"filter":"datum.kind == 'level'"}],"mark":{"type":"rule","color":"#ee1111","strokeWidth":10,"strokeCap":"butt","clip":false},
 "encoding":{"x":{"datum":372.875},"x2":{"datum":382.125},"y":{"field":"p","type":"quantitative"}}},
{"data":{"name":"levels"},"transform":[{"filter":"datum.kind == 'bid'"}],"mark":{"type":"rule","color":"#ffffff","strokeWidth":10,"strokeCap":"butt","clip":false},
 "encoding":{"x":{"datum":372.875},"x2":{"datum":382.125},"y":{"field":"p","type":"quantitative"}}},
{"data":{"name":"levels"},"transform":[{"filter":"datum.kind == 'level'"}],"mark":{"type":"text","align":"left","baseline":"middle","font":"Liberation Sans","fontSize":9,"color":"#7a0000","clip":false},
 "encoding":{"x":{"datum":373.625},"y":{"field":"p","type":"quantitative"},"text":{"field":"p","type":"quantitative","format":".4f"}}},
{"data":{"name":"levels"},"transform":[{"filter":"datum.kind == 'bid'"}],"mark":{"type":"text","align":"left","baseline":"middle","font":"Liberation Sans","fontSize":9,"color":"#000000","clip":false},
 "encoding":{"x":{"datum":373.625},"y":{"field":"p","type":"quantitative"},"text":{"field":"p","type":"quantitative","format":".4f"}}},
{"data":{"values":[{"t":"▼ EURUSD,H4  1.1698 1.1706 1.1689 1.1695"}]},"mark":{"type":"text","align":"left","baseline":"middle","font":"Liberation Sans","fontSize":9,"color":"#ffffff"},
 "encoding":{"x":{"datum":1.125},"y":{"datum":1.2122},"text":{"field":"t"}}}
]
},
{
"width":1492,"height":93,
"layer":[
{"data":{"name":"rsi"},"mark":{"type":"line","color":"#2a86f0","strokeWidth":1},
 "encoding":{
  "x":{"field":"i","type":"quantitative","scale":{"domain":[-0.375,372.625],"nice":false,"zero":false},
   "axis":{"values":[0,8,16,24,32,40,48,56,64,72,80,88,96,104,112,120,128,136,144,152,160,168,176,184,192,200,208,216,224,232,240,248,256,264,272,280,288,296,304,312,320,328,336,344,352,360,368],
    "labelExpr":"datum.value % 16 == 0 ? ['12 Jul 2017','17 Jul 08:00','20 Jul 00:00','24 Jul 16:00','27 Jul 08:00','1 Aug 00:00','3 Aug 16:00','8 Aug 08:00','11 Aug 00:00','15 Aug 16:00','18 Aug 08:00','23 Aug 00:00','25 Aug 16:00','30 Aug 08:00','4 Sep 00:00','6 Sep 16:00','11 Sep 08:00','14 Sep 00:00','18 Sep 16:00','21 Sep 08:00','26 Sep 00:00','28 Sep 16:00','3 Oct 08:00','6 Oct 00:00'][datum.value/16] : ''",
    "labelAlign":"left","labelFlush":false,"labelOverlap":false,"labelPadding":1,"labelOffset":1,"grid":true,"ticks":true,"tickSize":4,
    "tickOpacity":{"condition":{"test":"datum.value % 16 == 0","value":1},"value":0}}},
  "y":{"field":"v","type":"quantitative","scale":{"domain":[-8.86,108.86],"nice":false,"zero":false},
   "axis":{"orient":"right","values":[0,30,70,100],"labels":false,"grid":true,"gridOpacity":{"condition":{"test":"datum.value == 30 || datum.value == 70","value":1},"value":0},"ticks":true,"tickSize":3}}}},
{"data":{"name":"rticks"},"mark":{"type":"text","align":"left","baseline":"middle","font":"Liberation Sans","fontSize":9,"color":"#f0f0f0","clip":false},
 "encoding":{"x":{"datum":373.625},"y":{"field":"v","type":"quantitative"},"text":{"field":"v","type":"quantitative"}}},
{"data":{"values":[{"t":"RSI(14) 35.2064"}]},"mark":{"type":"text","align":"left","baseline":"middle","font":"Liberation Sans","fontSize":9,"color":"#ffffff"},
 "encoding":{"x":{"datum":1.125},"y":{"datum":97.5},"text":{"field":"t"}}},
{"data":{"values":[{"a":0}]},"mark":{"type":"rect","fill":"#8c2525","opacity":0.75,"clip":false},
 "encoding":{"x":{"datum":0.125},"x2":{"datum":98.625},"y":{"datum":48.1},"y2":{"datum":-35.4}}},
{"data":{"values":[{"t":"["}]},"mark":{"type":"text","align":"left","baseline":"alphabetic","font":"Liberation Sans","fontSize":39,"color":"#b4b4b4","opacity":0.85,"clip":false},
 "encoding":{"x":{"datum":4.875},"y":{"datum":-8.5},"text":{"field":"t"}}},
{"data":{"values":[{"t":"www.instaforex"}]},"mark":{"type":"text","align":"left","baseline":"alphabetic","font":"Liberation Sans","fontSize":39,"color":"#b4b4b4","opacity":0.85,"clip":false},
 "encoding":{"x":{"datum":10.125},"y":{"datum":-7.6},"text":{"field":"t"}}},
{"data":{"values":[{"t":".com"}]},"mark":{"type":"text","align":"left","baseline":"alphabetic","font":"Liberation Sans","fontSize":22,"color":"#b4b4b4","opacity":0.85,"clip":false},
 "encoding":{"x":{"datum":77.125},"y":{"datum":-7.6},"text":{"field":"t"}}},
{"data":{"values":[{"t":"]"}]},"mark":{"type":"text","align":"left","baseline":"alphabetic","font":"Liberation Sans","fontSize":39,"color":"#b4b4b4","opacity":0.85,"clip":false},
 "encoding":{"x":{"datum":90.875},"y":{"datum":-8.5},"text":{"field":"t"}}}
]
}
]
}
